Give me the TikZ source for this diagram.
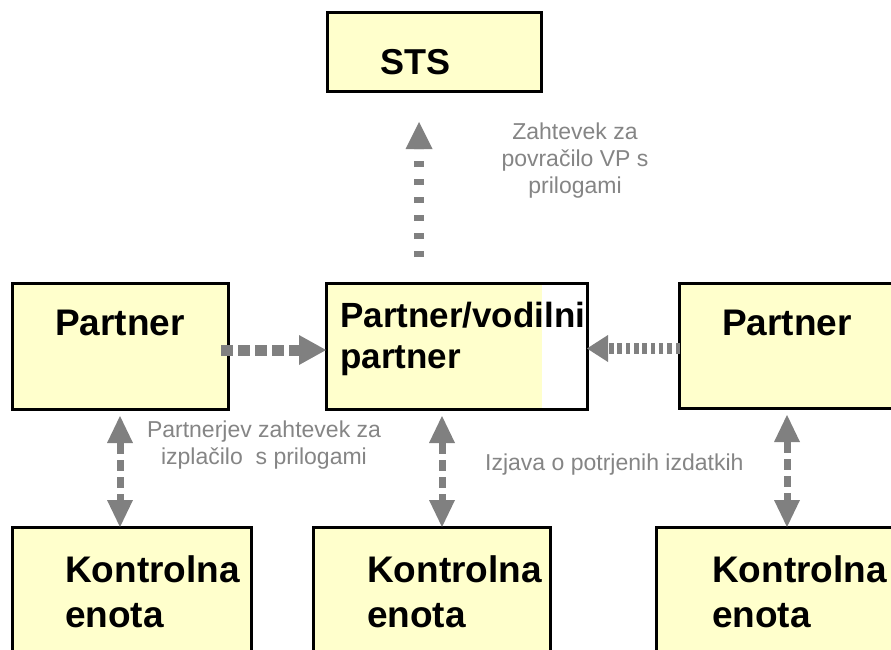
\documentclass[tikz,border=0pt]{standalone}
\usepackage{fontspec}
\setmainfont{Liberation Sans}
\usetikzlibrary{arrows.meta,calc}
\definecolor{paleyellow}{HTML}{FFFFCC}
\definecolor{arrowgray}{HTML}{808080}
\definecolor{notegray}{HTML}{858585}

\begin{document}
\begin{tikzpicture}[x=1pt,y=-1pt,every node/.style={inner sep=0pt},
  box/.style={draw=black,line width=3pt,fill=paleyellow},
  boxtext/.style={font=\bfseries\fontsize{37}{45}\selectfont,align=left,anchor=base west},
  notetext/.style={text=notegray,font=\fontsize{23}{27}\selectfont,align=center},
  flowup/.style={arrowgray,line width=10pt,dash pattern=on 6pt off 12pt,-{Triangle[width=27pt,length=27pt,line width=0pt]}},
  flowright/.style={arrowgray,line width=11pt,dash pattern=on 12pt off 5pt,-{Triangle[width=30pt,length=27pt,line width=0pt]}},
  flowleft/.style={arrowgray,line width=11pt,dash pattern=on 4.5pt off 3.8pt,-{Triangle[width=27pt,length=21pt,line width=0pt]}},
  flowboth/.style={arrowgray,line width=7pt,dash pattern=on 11pt off 6pt,{Triangle[width=26pt,length=27pt,line width=0pt]}-{Triangle[width=26pt,length=27pt,line width=0pt]}}]
\useasboundingbox (0,0) rectangle (891,650);
\clip (0,0) rectangle (891,650);
\fill[white] (0,0) rectangle (891,650);
% boxes
\node[box,minimum width=214pt,minimum height=79pt] (sts) at (434,52.5) {};
\node[box,minimum width=216pt,minimum height=126pt] (partnerL) at (120,346) {};
\node[draw=black,line width=3pt,minimum width=261pt,minimum height=126pt,
  path picture={\fill[paleyellow] (path picture bounding box.north west) rectangle ([xshift=-45pt]path picture bounding box.south east);}] (lead) at (456.5,346) {};
\node[box,minimum width=231pt,minimum height=125pt] (partnerR) at (794.5,345.5) {};
\node[box,minimum width=239pt,minimum height=143pt] (ctrlL) at (131.5,598.5) {};
\node[box,minimum width=237pt,minimum height=143pt] (ctrlM) at (431.5,598.5) {};
\node[box,minimum width=254pt,minimum height=143pt] (ctrlR) at (783,598.5) {};
% box texts (base = last line)
\node[boxtext,font=\bfseries\fontsize{36}{44}\selectfont] (stsText) at (380,75) {STS};
\node[boxtext] (partnerLText) at (55,335) {Partner};
\node[boxtext,font=\bfseries\fontsize{35}{41}\selectfont] (leadText) at (340,368) {Partner/vodilni\\partner};
\node[boxtext] (partnerRText) at (722,335) {Partner};
\node[boxtext] (ctrlLText) at (65,627) {Kontrolna\\enota};
\node[boxtext] (ctrlMText) at (367,627) {Kontrolna\\enota};
\node[boxtext] (ctrlRText) at (712,627) {Kontrolna\\enota};
% flows
\draw[flowup,shorten <=24.5pt,shorten >=28.5pt] ([xshift=-37.5pt]lead.north) -- ([xshift=-37.5pt]lead.north |- sts.south);
\draw[flowright,shorten <=-8.5pt,shorten >=-1.5pt] ([yshift=-4pt]partnerL.east) -- ([yshift=-4pt]partnerL.east -| lead.west);
\draw[flowleft,shorten <=-2.5pt,shorten >=-1.5pt] ([yshift=-3pt]partnerR.west) -- ([yshift=-3pt]partnerR.west -| lead.east);
\draw[flowboth,shorten <=5.5pt,shorten >=-1.5pt] (partnerL.south) -- (partnerL.south |- ctrlL.north);
\draw[flowboth,shorten <=5.5pt,shorten >=-1.5pt] ([xshift=-14.5pt]lead.south) -- ([xshift=-14.5pt]lead.south |- ctrlM.north);
\draw[flowboth,shorten <=5.5pt,shorten >=-1.5pt] ([xshift=-7.5pt]partnerR.south) -- ([xshift=-7.5pt]partnerR.south |- ctrlR.north);
% notes
\node[notetext,anchor=base] (stsNote) at (575,193) {Zahtevek za\\povračilo VP s\\prilogami};
\node[notetext,anchor=base] (claimNote) at (264,464) {Partnerjev zahtevek za\\izplačilo~ s prilogami};
\node[notetext,anchor=base west] (costNote) at (485,470) {Izjava o potrjenih izdatkih};
\end{tikzpicture}
\end{document}
